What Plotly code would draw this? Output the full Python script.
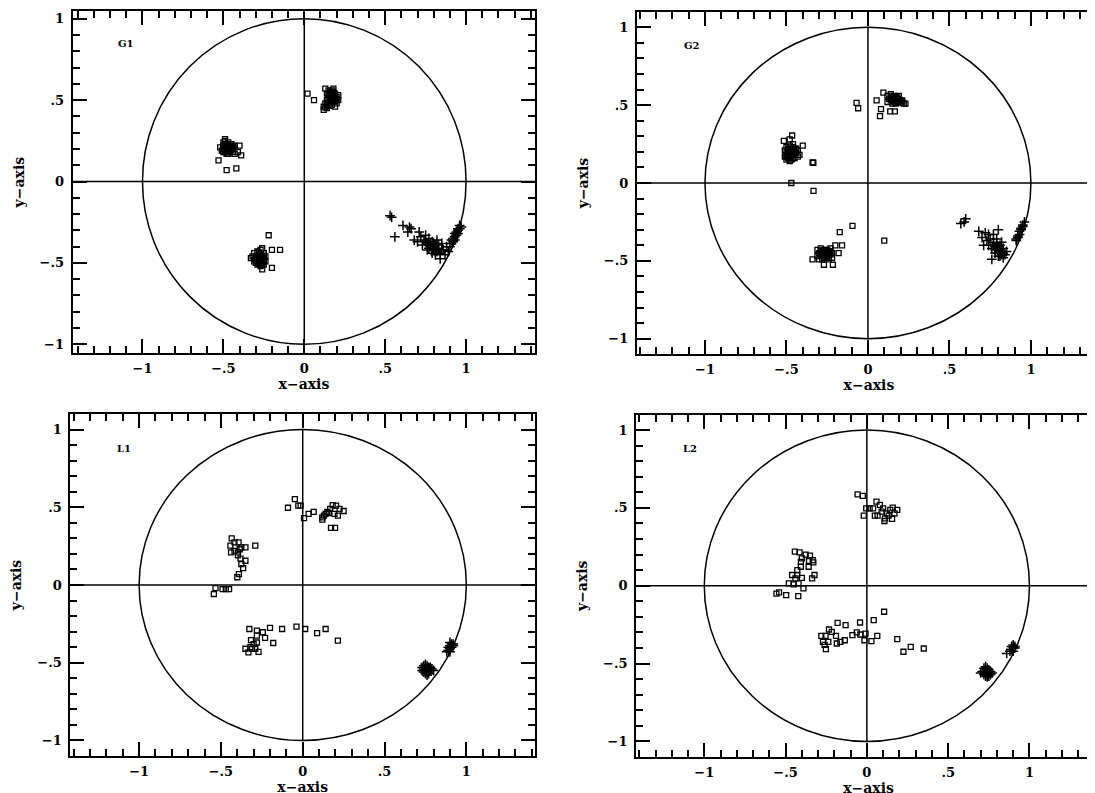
import plotly.graph_objects as go

# ---------------- data ----------------
panel_names = ["G1", "G2", "L1", "L2"]
tick_vals = [-1, -0.5, 0, 0.5, 1]
tick_text = ["\u22121", "\u2212.5", "0", ".5", "1"]
circle_radius = 1.0

# G1
G1_sq_x = [-0.50, -0.49, -0.48, -0.47, -0.46, -0.45, -0.50, -0.49, -0.48, -0.47, -0.46, -0.45, -0.44, -0.51, -0.50,
           -0.48, -0.47, -0.46, -0.49, -0.48, -0.52, -0.44, -0.43, -0.47, -0.49,
           -0.49, -0.47, -0.48, -0.46, -0.50, -0.48, -0.47, -0.45, -0.49, -0.47, -0.45, -0.48, -0.46, -0.44, -0.50,
           -0.40, -0.41, -0.39, -0.53, -0.48, -0.42, -0.43,
           0.13, 0.15, 0.17, 0.16, 0.18, 0.14, 0.16, 0.18, 0.20, 0.15, 0.17, 0.19, 0.21, 0.14, 0.16, 0.18, 0.20,
           0.13, 0.15, 0.17, 0.12, 0.14, 0.12, 0.19, 0.21, 0.18,
           0.15, 0.17, 0.19, 0.16, 0.18, 0.17, 0.19, 0.15, 0.17, 0.19, 0.20, 0.14, 0.16, 0.13, 0.16,
           0.02, 0.06,
           -0.31, -0.29, -0.27, -0.25, -0.32, -0.30, -0.28, -0.26, -0.24, -0.31, -0.29, -0.27, -0.25, -0.30, -0.28,
           -0.26, -0.24, -0.29, -0.27, -0.25, -0.33, -0.27,
           -0.30, -0.28, -0.26, -0.29, -0.27, -0.25, -0.29, -0.27, -0.25, -0.28, -0.26, -0.31, -0.28,
           -0.22, -0.26, -0.20, -0.15, -0.20, -0.26]
G1_sq_y = [0.24, 0.25, 0.23, 0.24, 0.22, 0.23, 0.21, 0.22, 0.20, 0.21, 0.20, 0.21, 0.20, 0.19, 0.18,
           0.19, 0.18, 0.19, 0.26, 0.17, 0.21, 0.18, 0.22, 0.20, 0.20,
           0.23, 0.22, 0.21, 0.21, 0.20, 0.19, 0.19, 0.19, 0.18, 0.17, 0.21, 0.225, 0.205, 0.215, 0.22,
           0.22, 0.18, 0.16, 0.13, 0.07, 0.08, 0.17,
           0.57, 0.56, 0.56, 0.55, 0.55, 0.54, 0.53, 0.53, 0.52, 0.52, 0.51, 0.51, 0.50, 0.50, 0.49, 0.49, 0.48,
           0.48, 0.47, 0.47, 0.46, 0.45, 0.44, 0.46, 0.53, 0.57,
           0.535, 0.525, 0.525, 0.515, 0.505, 0.495, 0.495, 0.485, 0.54, 0.54, 0.505, 0.475, 0.465, 0.455, 0.545,
           0.54, 0.50,
           -0.44, -0.43, -0.44, -0.44, -0.46, -0.46, -0.45, -0.46, -0.46, -0.48, -0.48, -0.47, -0.48, -0.50, -0.49,
           -0.50, -0.49, -0.51, -0.52, -0.51, -0.47, -0.42,
           -0.47, -0.47, -0.475, -0.455, -0.455, -0.455, -0.49, -0.49, -0.49, -0.505, -0.51, -0.49, -0.435,
           -0.33, -0.41, -0.42, -0.42, -0.53, -0.54]
G1_pl_x = [0.53, 0.54, 0.56, 0.61, 0.65, 0.64, 0.66, 0.71, 0.70, 0.68, 0.72, 0.74, 0.75, 0.76, 0.77, 0.78,
           0.79, 0.80, 0.81, 0.82, 0.83, 0.84, 0.85, 0.86, 0.84, 0.87, 0.89, 0.88, 0.79, 0.76, 0.73, 0.81,
           0.77, 0.78, 0.80, 0.79, 0.81, 0.82, 0.77, 0.75, 0.83, 0.80, 0.85,
           0.90, 0.91, 0.92, 0.92, 0.93, 0.94, 0.94, 0.95, 0.96, 0.96, 0.93, 0.95, 0.97,
           0.91, 0.92, 0.93, 0.94, 0.95]
G1_pl_y = [-0.21, -0.22, -0.34, -0.27, -0.28, -0.31, -0.29, -0.31, -0.37, -0.36, -0.34, -0.36, -0.33, -0.38,
           -0.35, -0.40, -0.37, -0.42, -0.39, -0.36, -0.41, -0.44, -0.38, -0.42, -0.475, -0.45, -0.43, -0.40,
           -0.44, -0.42, -0.39, -0.45,
           -0.39, -0.38, -0.40, -0.41, -0.42, -0.43, -0.41, -0.37, -0.39, -0.38, -0.42,
           -0.40, -0.38, -0.37, -0.35, -0.34, -0.33, -0.31, -0.30, -0.29, -0.27, -0.36, -0.32, -0.28,
           -0.36, -0.36, -0.32, -0.32, -0.29]

# G2
G2_sq_x = [-0.50, -0.48, -0.46, -0.44, -0.51, -0.49, -0.47, -0.45, -0.43, -0.50, -0.48, -0.46, -0.44, -0.49,
           -0.47, -0.45, -0.51, -0.48, -0.46, -0.42, -0.50,
           -0.49, -0.47, -0.45, -0.48, -0.46, -0.49, -0.47, -0.45, -0.48, -0.46, -0.50, -0.47,
           -0.465, -0.48, -0.516, -0.40, -0.43, -0.34, -0.335, -0.47, -0.334,
           0.12, 0.14, 0.16, 0.18, 0.13, 0.15, 0.17, 0.19, 0.21, 0.14, 0.16, 0.18, 0.20, 0.12, 0.15, 0.17, 0.22, 0.19,
           0.15, 0.17, 0.19, 0.16, 0.18, 0.20, 0.17, 0.19, 0.14, 0.21,
           -0.07, -0.06, 0.053, 0.095, 0.08, 0.074, 0.137, 0.165, 0.23,
           -0.31, -0.29, -0.27, -0.25, -0.23, -0.30, -0.28, -0.26, -0.24, -0.22, -0.31, -0.29, -0.27, -0.25,
           -0.23, -0.28, -0.26, -0.24, -0.22, -0.30,
           -0.29, -0.27, -0.25, -0.28, -0.26, -0.24, -0.27, -0.25, -0.29, -0.23, -0.26,
           -0.095, -0.173, 0.10, -0.159, -0.20, -0.34, -0.27, -0.215, -0.18]
G2_sq_y = [0.23, 0.24, 0.23, 0.22, 0.21, 0.21, 0.20, 0.20, 0.21, 0.19, 0.18, 0.18, 0.19, 0.16,
           0.15, 0.16, 0.17, 0.14, 0.25, 0.18, 0.15,
           0.22, 0.22, 0.22, 0.20, 0.20, 0.19, 0.18, 0.18, 0.17, 0.16, 0.175, 0.16,
           0.305, 0.28, 0.27, 0.24, 0.17, 0.133, 0.13, 0.0, -0.05,
           0.56, 0.57, 0.56, 0.55, 0.54, 0.55, 0.54, 0.54, 0.53, 0.53, 0.52, 0.52, 0.52, 0.52, 0.51, 0.51, 0.51, 0.56,
           0.54, 0.55, 0.53, 0.535, 0.535, 0.53, 0.52, 0.515, 0.55, 0.52,
           0.515, 0.48, 0.53, 0.58, 0.475, 0.43, 0.46, 0.46, 0.51,
           -0.43, -0.42, -0.43, -0.43, -0.42, -0.45, -0.44, -0.45, -0.44, -0.45, -0.47, -0.47, -0.46, -0.47,
           -0.46, -0.49, -0.48, -0.49, -0.48, -0.49,
           -0.45, -0.45, -0.45, -0.46, -0.46, -0.46, -0.48, -0.48, -0.44, -0.44, -0.44,
           -0.275, -0.315, -0.37, -0.40, -0.40, -0.49, -0.525, -0.525, -0.45]
G2_pl_x = [0.57, 0.60, 0.59, 0.68, 0.70, 0.74, 0.72, 0.80, 0.76, 0.82, 0.71, 0.73, 0.75, 0.77, 0.78, 0.79,
           0.80, 0.81, 0.82, 0.83, 0.84, 0.78, 0.76, 0.80, 0.83, 0.85, 0.74, 0.77, 0.79, 0.81,
           0.79, 0.80, 0.81, 0.82, 0.78, 0.80, 0.82, 0.77, 0.81, 0.83,
           0.91, 0.92, 0.93, 0.93, 0.94, 0.95, 0.95, 0.96, 0.92, 0.94, 0.91]
G2_pl_y = [-0.26, -0.23, -0.25, -0.31, -0.35, -0.33, -0.32, -0.30, -0.49, -0.45, -0.40, -0.37, -0.36, -0.38,
           -0.41, -0.36, -0.43, -0.40, -0.38, -0.42, -0.46, -0.45, -0.42, -0.47, -0.48, -0.44, -0.40, -0.33,
           -0.39, -0.44,
           -0.42, -0.41, -0.43, -0.44, -0.43, -0.45, -0.46, -0.40, -0.47, -0.45,
           -0.36, -0.34, -0.33, -0.31, -0.30, -0.28, -0.27, -0.25, -0.35, -0.29, -0.37]

# L1
L1_sq_x = [-0.048, -0.09, -0.027, -0.013, 0.008, 0.036, 0.067, 0.12, 0.12, 0.13, 0.15, 0.168, 0.183, 0.204,
           0.225, 0.25, 0.215, 0.194, 0.173, 0.198, 0.16, 0.14,
           -0.434, -0.442, -0.417, -0.392, -0.375, -0.35, -0.438, -0.417, -0.396, -0.38, -0.35, -0.375, -0.364,
           -0.29, -0.39, -0.40, -0.396, -0.385,
           -0.543, -0.533, -0.49, -0.47, -0.45,
           -0.326, -0.28, -0.244, -0.20, -0.23, -0.18, -0.126, -0.038, 0.015, 0.088, 0.14, 0.215, -0.28, -0.316,
           -0.30, -0.32, -0.35, -0.332, -0.29, -0.27, -0.31, -0.28]
L1_sq_y = [0.553, 0.497, 0.51, 0.51, 0.43, 0.457, 0.47, 0.435, 0.42, 0.446, 0.47, 0.49, 0.514, 0.51,
           0.49, 0.476, 0.446, 0.457, 0.367, 0.367, 0.463, 0.457,
           0.30, 0.253, 0.274, 0.274, 0.242, 0.242, 0.21, 0.22, 0.19, 0.17, 0.156, 0.135, 0.109,
           0.253, 0.07, 0.05, 0.21, 0.23,
           -0.058, -0.02, -0.026, -0.026, -0.026,
           -0.283, -0.294, -0.304, -0.276, -0.34, -0.373, -0.283, -0.268, -0.283, -0.309, -0.283, -0.358, -0.326,
           -0.354, -0.38, -0.40, -0.41, -0.433, -0.41, -0.43, -0.41, -0.37]
L1_pl_x = [0.74, 0.75, 0.76, 0.77, 0.73, 0.74, 0.75, 0.76, 0.77, 0.78, 0.79, 0.74, 0.75, 0.76, 0.77, 0.76,
           0.73, 0.78, 0.80,
           0.90, 0.91, 0.92, 0.90, 0.89, 0.91, 0.90, 0.89, 0.90, 0.92, 0.88]
L1_pl_y = [-0.52, -0.51, -0.52, -0.53, -0.53, -0.54, -0.55, -0.54, -0.55, -0.55, -0.54, -0.56, -0.57, -0.56,
           -0.57, -0.58, -0.55, -0.53, -0.55,
           -0.37, -0.38, -0.39, -0.39, -0.40, -0.40, -0.41, -0.42, -0.43, -0.38, -0.43]

# L2
L2_sq_x = [-0.057, -0.025, -0.019, -0.004, 0.017, 0.038, 0.059, 0.08, 0.049, 0.066, 0.10, 0.112, 0.108,
           0.123, 0.144, 0.159, 0.187, 0.17, 0.155, 0.134, 0.091,
           -0.443, -0.414, -0.376, -0.35, -0.40, -0.406, -0.356, -0.333, -0.329, -0.358, -0.406, -0.428, -0.46,
           -0.428, -0.40, -0.44, -0.322, -0.337, -0.48, -0.45, -0.42, -0.39, -0.556, -0.54, -0.496, -0.422,
           0.106, 0.042, -0.042, -0.131, -0.18, -0.233, -0.216, -0.28, -0.254, -0.27, -0.26, -0.252, -0.237,
           -0.19, -0.185, -0.163, -0.136, -0.089, -0.062, -0.04, -0.008, -0.015, 0.028, 0.064, 0.187, 0.225,
           0.27, 0.35]
L2_sq_y = [0.587, 0.577, 0.45, 0.497, 0.497, 0.497, 0.54, 0.519, 0.45, 0.45, 0.497, 0.433, 0.416,
           0.465, 0.487, 0.502, 0.487, 0.465, 0.429, 0.45, 0.476,
           0.219, 0.214, 0.20, 0.193, 0.176, 0.154, 0.159, 0.165, 0.15, 0.122, 0.122, 0.10, 0.069,
           0.069, 0.05, 0.047, 0.069, 0.047, 0.015, 0.009, 0.015, -0.017, -0.051, -0.043, -0.06, -0.066,
           -0.167, -0.221, -0.236, -0.253, -0.238, -0.281, -0.296, -0.322, -0.322, -0.36, -0.38, -0.407, -0.36,
           -0.322, -0.371, -0.36, -0.35, -0.317, -0.30, -0.313, -0.307, -0.35, -0.356, -0.322, -0.343, -0.424,
           -0.392, -0.403]
L2_pl_x = [0.72, 0.73, 0.74, 0.75, 0.71, 0.72, 0.73, 0.74, 0.75, 0.76, 0.77, 0.72, 0.73, 0.74, 0.75, 0.76,
           0.74, 0.70,
           0.89, 0.90, 0.91, 0.89, 0.90, 0.88, 0.91, 0.90, 0.86]
L2_pl_y = [-0.53, -0.52, -0.53, -0.54, -0.55, -0.55, -0.56, -0.55, -0.56, -0.55, -0.56, -0.57, -0.58, -0.57,
           -0.58, -0.57, -0.585, -0.56,
           -0.39, -0.38, -0.39, -0.41, -0.40, -0.42, -0.40, -0.42, -0.435]

label_pos_x = [-1.10, -1.08, -1.09, -1.09]
label_pos_y = [0.85, 0.88, 0.88, 0.88]

# ---------------- layout geometry (figure pixels; page adds an 8px body margin) ----------------
W, H = 1095, 793
panels = [
    dict(name="G1", sqx=G1_sq_x, sqy=G1_sq_y, plx=G1_pl_x, ply=G1_pl_y,
         px=(64.7, 528.3), py=(3.0, 345.3), xr=[-1.432, 1.428], yr=[-1.055, 1.047]),
    dict(name="G2", sqx=G2_sq_x, sqy=G2_sq_y, plx=G2_pl_x, ply=G2_pl_y,
         px=(630.0, 1095.0), py=(3.7, 346.3), xr=[-1.418, 1.43], yr=[-1.1, 1.1]),
    dict(name="L1", sqx=L1_sq_x, sqy=L1_sq_y, plx=L1_pl_x, ply=L1_pl_y,
         px=(62.5, 528.0), py=(406.0, 748.0), xr=[-1.42, 1.42], yr=[-1.1, 1.1]),
    dict(name="L2", sqx=L2_sq_x, sqy=L2_sq_y, plx=L2_pl_x, ply=L2_pl_y,
         px=(629.3, 1095.0), py=(406.5, 749.0), xr=[-1.419, 1.44], yr=[-1.1, 1.1]),
]

FONT = "DejaVu Serif"
fig = go.Figure()
shapes = []
annotations = []
layout_axes = {}

for i, p in enumerate(panels):
    n = "" if i == 0 else str(i + 1)
    xa, ya = "x" + n, "y" + n
    fig.add_trace(go.Scatter(x=p["sqx"], y=p["sqy"], mode="markers", xaxis=xa, yaxis=ya,
                             marker=dict(symbol="square-open", size=5, color="black",
                                         line=dict(width=1.3, color="black")),
                             showlegend=False, hoverinfo="skip"))
    fig.add_trace(go.Scatter(x=p["plx"], y=p["ply"], mode="markers", xaxis=xa, yaxis=ya,
                             marker=dict(symbol="cross-thin-open", size=7, color="black",
                                         line=dict(width=1.5, color="black")),
                             showlegend=False, hoverinfo="skip"))
    # circle and zero axes
    shapes.append(dict(type="circle", xref=xa, yref=ya, x0=-circle_radius, y0=-circle_radius,
                       x1=circle_radius, y1=circle_radius, line=dict(color="black", width=1.5), layer="below"))
    shapes.append(dict(type="line", xref=xa + " domain", yref=ya, x0=0, x1=1, y0=0, y1=0,
                       line=dict(color="black", width=1.5), layer="below"))
    shapes.append(dict(type="line", xref=xa, yref=ya, x0=0, x1=0, y0=-circle_radius, y1=circle_radius,
                       line=dict(color="black", width=1.5), layer="below"))
    annotations.append(dict(text=p["name"], x=label_pos_x[i], y=label_pos_y[i], xref=xa, yref=ya,
                            showarrow=False, font=dict(family=FONT, size=10, color="black", weight="bold")))

    xdom = [p["px"][0] / W, min(1.0, p["px"][1] / W)]
    ydom = [1 - p["py"][1] / H, 1 - p["py"][0] / H]
    common = dict(tickmode="array", tickvals=tick_vals, ticktext=tick_text, ticks="inside",
                  ticklen=14, tickwidth=1.5, tickcolor="black", showline=True, linecolor="black",
                  linewidth=2, showgrid=False, zeroline=False, mirror="allticks",
                  tickfont=dict(family=FONT, size=13, color="black", weight="bold"),
                  minor=dict(dtick=0.1, tick0=0, ticks="inside", ticklen=7, tickwidth=1.5,
                             tickcolor="black", showgrid=False))
    xkey = "xaxis" + n
    ykey = "yaxis" + n
    layout_axes[xkey] = dict(common, domain=xdom, range=p["xr"], anchor=ya, ticklabelstandoff=2,
                             title=dict(text="x\u2212axis", standoff=0,
                                        font=dict(family=FONT, size=14, color="black", weight="bold")))
    layout_axes[ykey] = dict(common, domain=ydom, range=p["yr"], anchor=xa, ticklabelstandoff=4,
                             title=dict(text="y\u2212axis", standoff=12,
                                        font=dict(family=FONT, size=14, color="black", weight="bold")))

fig.update_layout(width=W, height=H, margin=dict(l=0, r=0, t=0, b=0),
                  paper_bgcolor="white", plot_bgcolor="white",
                  shapes=shapes, annotations=annotations, **layout_axes)
fig.write_html("out.html")
